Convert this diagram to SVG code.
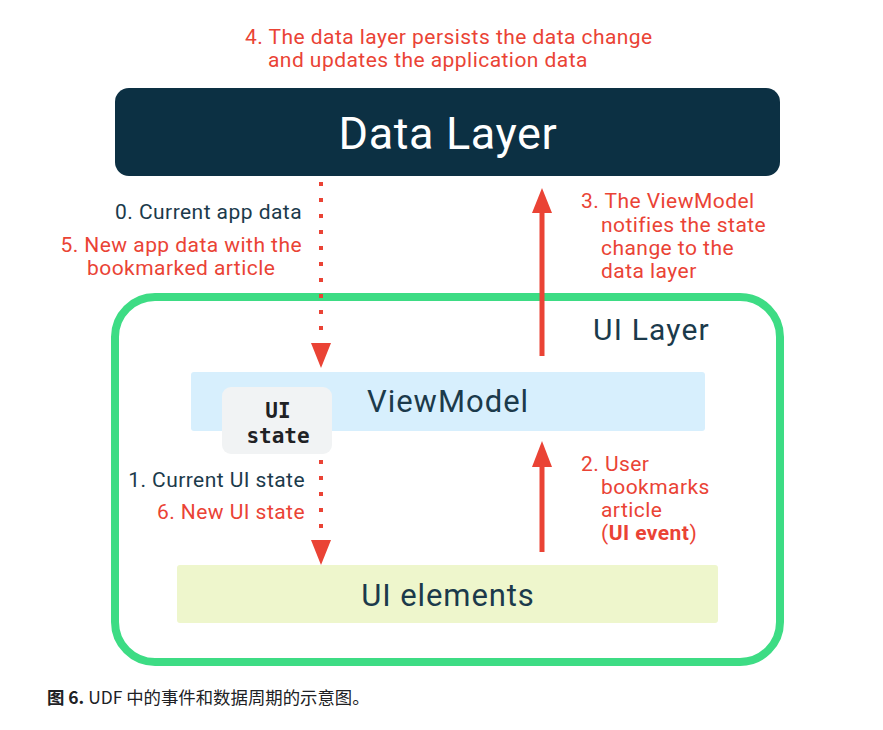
<svg xmlns="http://www.w3.org/2000/svg" width="883" height="730" viewBox="0 0 883 730">
<style>
.t{font-family:Roboto,"Open Sans",sans-serif}
.red{fill:#ea4335}
.dark{fill:#1b3a4b}
.lbl{font-size:21px;letter-spacing:0.45px}
.mono{font-family:"DejaVu Sans Mono","Liberation Mono",monospace;font-weight:bold;font-size:21px;fill:#202124}
.dot{stroke:#ea4335;stroke-width:4;stroke-dasharray:4 12;fill:none}
.solid{stroke:#ea4335;stroke-width:5;fill:none}
</style>
<rect width="883" height="730" fill="#ffffff"/>

<g id="ui-layer">
<rect x="115" y="297" width="665" height="365" rx="40" fill="none" stroke="#3ddc84" stroke-width="8"/>
<text class="t dark" x="593" y="340" font-size="30" letter-spacing="1.2">UI Layer</text>
</g>

<g id="data-layer">
<rect x="115" y="88" width="665" height="88" rx="14" fill="#0c3043"/>
<text class="t" x="448" y="149" font-size="45" letter-spacing="0.6" fill="#ffffff" text-anchor="middle">Data Layer</text>
</g>

<g id="viewmodel">
<rect x="191" y="372" width="514" height="59" rx="3" fill="#d7effd"/>
<text class="t dark" x="448" y="412" font-size="31" letter-spacing="1" text-anchor="middle">ViewModel</text>
</g>

<g id="ui-state">
<rect x="222" y="387" width="110" height="67" rx="9" fill="#f1f3f4"/>
<text class="mono" x="278" y="418" text-anchor="middle">UI</text>
<text class="mono" x="278" y="443" text-anchor="middle">state</text>
</g>

<g id="ui-elements">
<rect x="177" y="565" width="541" height="58" rx="3" fill="#eef6cc"/>
<text class="t dark" x="448" y="606" font-size="31" letter-spacing="0.9" text-anchor="middle">UI elements</text>
</g>

<g id="connectors">
<line class="dot" x1="321" y1="182" x2="321" y2="342"/>
<path d="M311,343 L331,343 L321,368 z" fill="#ea4335"/>
<line class="dot" x1="321" y1="460" x2="321" y2="538"/>
<path d="M311,540 L331,540 L321,565 z" fill="#ea4335"/>
<line class="solid" x1="542" y1="356" x2="542" y2="208"/>
<path d="M532,213 L552,213 L542,188 z" fill="#ea4335"/>
<line class="solid" x1="542" y1="552" x2="542" y2="462"/>
<path d="M532,467 L552,467 L542,441 z" fill="#ea4335"/>
</g>

<g id="labels">
<text class="t red lbl" x="245" y="44">4. The data layer persists the data change</text>
<text class="t red lbl" x="268" y="67">and updates the application data</text>
<text class="t dark lbl" x="302" y="219" text-anchor="end">0. Current app data</text>
<text class="t red lbl" x="302" y="252" text-anchor="end">5. New app data with the</text>
<text class="t red lbl" x="87" y="275">bookmarked article</text>
<text class="t red lbl" x="581" y="208">3. The ViewModel</text>
<text class="t red lbl" x="601" y="232">notifies the state</text>
<text class="t red lbl" x="601" y="255">change to the</text>
<text class="t red lbl" x="601" y="278">data layer</text>
<text class="t dark lbl" x="305" y="487" text-anchor="end">1. Current UI state</text>
<text class="t red lbl" x="305" y="519" text-anchor="end">6. New UI state</text>
<text class="t red lbl" x="581" y="471">2. User</text>
<text class="t red lbl" x="601" y="494">bookmarks</text>
<text class="t red lbl" x="601" y="517">article</text>
<text class="t red lbl" x="601" y="540">(<tspan font-weight="bold">UI event</tspan>)</text>
</g>

<text x="47" y="704" font-size="17.4" fill="#202124" font-family="'Noto Sans CJK SC','Noto Sans',sans-serif"><tspan font-weight="bold">图 6.</tspan> UDF 中的事件和数据周期的示意图。</text>
</svg>
